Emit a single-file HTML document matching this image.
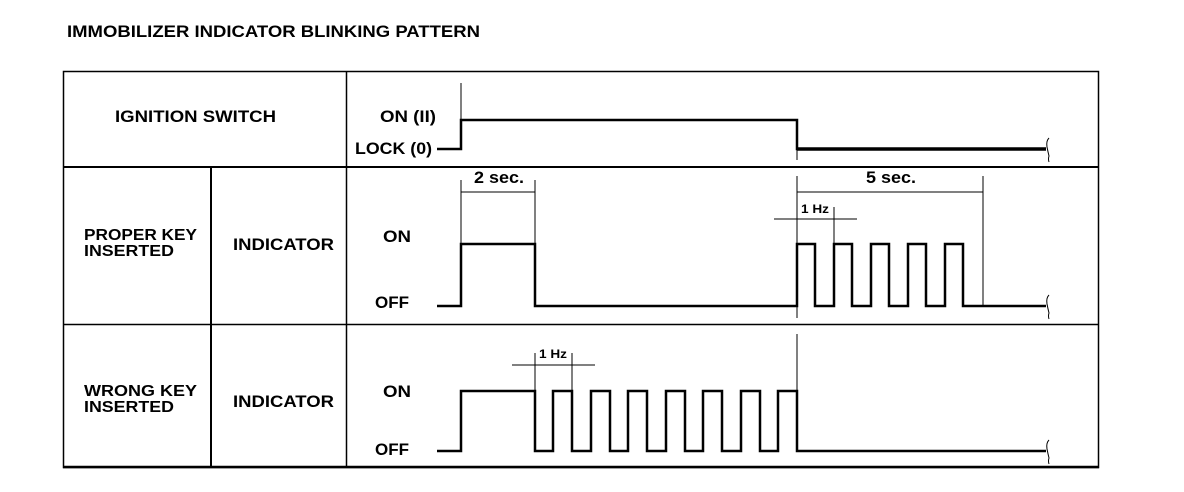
<!DOCTYPE html>
<html><head><meta charset="utf-8"><style>
html,body{margin:0;padding:0;background:#fff;}
svg{display:block;}
text{font-family:"Liberation Sans",Arial,sans-serif;font-weight:bold;fill:#000;}
</style></head><body>
<svg width="1184" height="492" viewBox="0 0 1184 492" xmlns="http://www.w3.org/2000/svg">
<text x="67" y="37" font-size="17" textLength="413" lengthAdjust="spacingAndGlyphs">IMMOBILIZER INDICATOR BLINKING PATTERN</text>
<g stroke="#000" fill="none">
<rect x="63.5" y="71.5" width="1035" height="396" stroke-width="1.5"/>
<line x1="63" y1="167" x2="1099" y2="167" stroke-width="2"/>
<line x1="63" y1="324.5" x2="1099" y2="324.5" stroke-width="1.5"/>
<line x1="63" y1="467" x2="1099" y2="467" stroke-width="2.5"/>
<line x1="346.5" y1="71" x2="346.5" y2="468" stroke-width="1.5"/>
<line x1="211" y1="167" x2="211" y2="468" stroke-width="2"/>

<line x1="461" y1="83" x2="461" y2="120" stroke-width="1"/>
<polyline points="437,149 461,149 461,120 797,120 797,149 1046,149" stroke-width="2.5"/>
<line x1="797" y1="149" x2="1046" y2="149" stroke-width="3.5"/>
<line x1="797" y1="149" x2="797" y2="160" stroke-width="1"/>

<polyline points="437,306 461,306 461,244 535,244 535,306 797,306 797,244 815,244 815,306 834,306 834,244 852,244 852,306 871,306 871,244 889,244 889,306 908,306 908,244 926,244 926,306 945,306 945,244 963,244 963,306 1046,306" stroke-width="2.5"/>
<line x1="461" y1="180" x2="461" y2="244" stroke-width="1"/>
<line x1="535" y1="180" x2="535" y2="244" stroke-width="1"/>
<line x1="461" y1="192" x2="535" y2="192" stroke-width="1"/>
<line x1="797" y1="176" x2="797" y2="244" stroke-width="1"/>
<line x1="983" y1="176" x2="983" y2="306" stroke-width="1"/>
<line x1="797" y1="192" x2="983" y2="192" stroke-width="1"/>
<line x1="774" y1="219" x2="857" y2="219" stroke-width="1"/>
<line x1="834" y1="207" x2="834" y2="244" stroke-width="1"/>
<line x1="797" y1="306" x2="797" y2="318" stroke-width="1"/>

<polyline points="437,451 461,451 461,391 535,391 535,451 553,451 553,391 572,391 572,451 591,451 591,391 610,391 610,451 628,451 628,391 647,391 647,451 666,451 666,391 685,391 685,451 703,451 703,391 722,391 722,451 741,451 741,391 760,391 760,451 778,451 778,391 797,391 797,451 1046,451" stroke-width="2.5"/>
<line x1="797" y1="334" x2="797" y2="391" stroke-width="1"/>
<line x1="512" y1="365" x2="595" y2="365" stroke-width="1"/>
<line x1="535" y1="353" x2="535" y2="391" stroke-width="1"/>
<line x1="572" y1="353" x2="572" y2="391" stroke-width="1"/>

<path d="M1049,138 q-3,3 -2,9 q1,5 2,9 q-1,3 0,6" stroke-width="1"/>
<path d="M1049,295 q-3,3 -2,9 q1,5 2,9 q-1,3 0,6" stroke-width="1"/>
<path d="M1049,440 q-3,3 -2,9 q1,5 2,9 q-1,3 0,6" stroke-width="1"/>
</g>

<text x="115" y="122" font-size="17" textLength="161" lengthAdjust="spacingAndGlyphs">IGNITION SWITCH</text>
<text x="84" y="240" font-size="16" textLength="113" lengthAdjust="spacingAndGlyphs">PROPER KEY</text>
<text x="84" y="256" font-size="16" textLength="90" lengthAdjust="spacingAndGlyphs">INSERTED</text>
<text x="233" y="250" font-size="17" textLength="101" lengthAdjust="spacingAndGlyphs">INDICATOR</text>
<text x="84" y="396" font-size="16" textLength="113" lengthAdjust="spacingAndGlyphs">WRONG KEY</text>
<text x="84" y="412" font-size="16" textLength="90" lengthAdjust="spacingAndGlyphs">INSERTED</text>
<text x="233" y="407" font-size="17" textLength="101" lengthAdjust="spacingAndGlyphs">INDICATOR</text>

<text x="380" y="122" font-size="17" textLength="56" lengthAdjust="spacingAndGlyphs">ON (II)</text>
<text x="355" y="154" font-size="17" textLength="77" lengthAdjust="spacingAndGlyphs">LOCK (0)</text>
<text x="383" y="242" font-size="17" textLength="28" lengthAdjust="spacingAndGlyphs">ON</text>
<text x="375" y="308" font-size="17" textLength="34" lengthAdjust="spacingAndGlyphs">OFF</text>
<text x="383" y="397" font-size="17" textLength="28" lengthAdjust="spacingAndGlyphs">ON</text>
<text x="375" y="455" font-size="17" textLength="34" lengthAdjust="spacingAndGlyphs">OFF</text>

<text x="474" y="183" font-size="17" textLength="50" lengthAdjust="spacingAndGlyphs">2 sec.</text>
<text x="866" y="183" font-size="17" textLength="50" lengthAdjust="spacingAndGlyphs">5 sec.</text>
<text x="801" y="213" font-size="12" textLength="28" lengthAdjust="spacingAndGlyphs">1 Hz</text>
<text x="539" y="358" font-size="12" textLength="28" lengthAdjust="spacingAndGlyphs">1 Hz</text>
</svg>
</body></html>
